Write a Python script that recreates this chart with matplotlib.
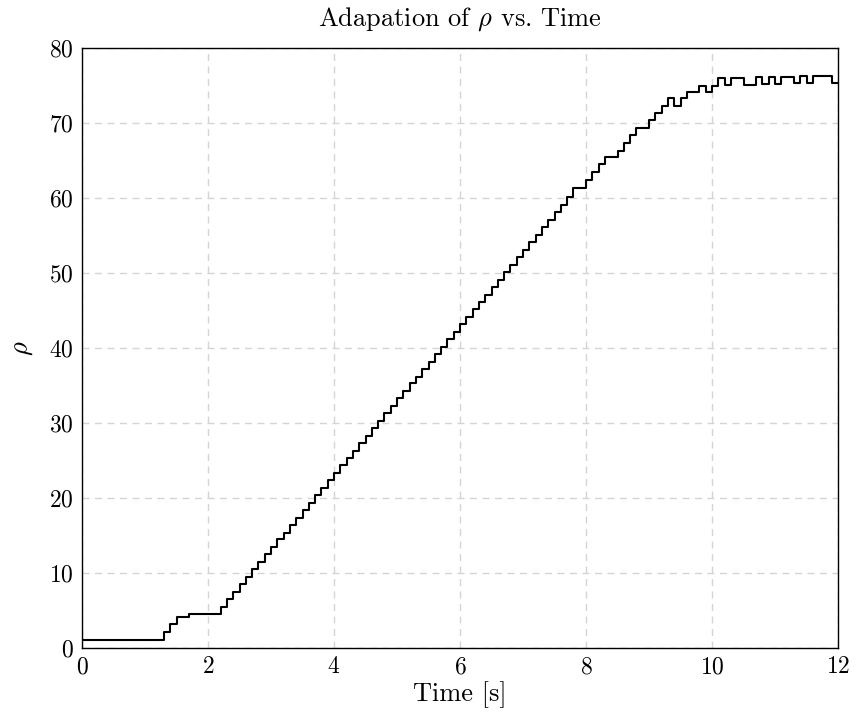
import numpy as np
import matplotlib
matplotlib.use("Agg")
import matplotlib.pyplot as plt

# rho sampled every 0.1 s from t = 0.0 to 12.0 (step signal)
dt = 0.1
rho = [
    1.1, 1.1, 1.1, 1.1, 1.1, 1.1, 1.1, 1.1, 1.1, 1.1, 1.1, 1.1, 1.1,   # 0.0 - 1.2
    2.1, 3.2, 4.2, 4.2, 4.5, 4.5, 4.5, 4.5, 4.5,                        # 1.3 - 2.1
    5.5, 6.5, 7.5, 8.5, 9.5, 10.5, 11.5, 12.5, 13.5, 14.5,              # 2.2 - 3.1
    15.4, 16.4, 17.4, 18.4, 19.4, 20.4, 21.4, 22.4, 23.4, 24.4,         # 3.2 - 4.1
    25.4, 26.3, 27.3, 28.3, 29.3, 30.3, 31.3, 32.3, 33.3, 34.3,         # 4.2 - 5.1
    35.3, 36.2, 37.2, 38.2, 39.2, 40.2, 41.2, 42.2, 43.2, 44.2,         # 5.2 - 6.1
    45.2, 46.1, 47.1, 48.1, 49.1, 50.1, 51.1, 52.1, 53.1, 54.1,         # 6.2 - 7.1
    55.1, 56.1, 57.1, 58.1, 59.1, 60.2, 61.3, 61.3, 62.4, 63.5,         # 7.2 - 8.1
    64.5, 65.4, 65.4, 66.3, 67.3, 68.4, 69.4, 69.4, 70.4, 71.3,         # 8.2 - 9.1
    72.3, 73.3, 72.3, 73.3, 74.2, 74.2, 75.0, 74.2, 75.0, 76.0,         # 9.2 - 10.1
    75.1, 76.0, 76.0, 75.1, 75.1, 76.1, 75.2, 76.1, 75.2, 76.2,         # 10.2 - 11.1
    76.2, 75.3, 76.3, 75.3, 76.3, 76.3, 76.3, 75.4, 75.4,               # 11.2 - 12.0
]
time = np.round(np.arange(len(rho)) * dt, 1)

x_ticks = [0, 2, 4, 6, 8, 10, 12]
y_ticks = [0, 10, 20, 30, 40, 50, 60, 70, 80]

plt.rcParams['font.family'] = 'serif'
plt.rcParams['font.serif'] = ['cmr10']
plt.rcParams['mathtext.fontset'] = 'cm'
plt.rcParams['axes.unicode_minus'] = False
plt.rcParams['axes.formatter.use_mathtext'] = True

fig = plt.figure(figsize=(8.56, 7.15), dpi=100)
ax = fig.add_axes([82/856, 67/715, 756/856, 600/715])

ax.plot(time, rho, drawstyle='steps-post', color='black', lw=1.5)

ax.set_xlim(0, 12)
ax.set_ylim(0, 80)
ax.set_xticks(x_ticks)
ax.set_yticks(y_ticks)
ax.grid(True, color='#d4d4d4', linestyle=(0, (5, 4)), linewidth=1.0)
ax.set_axisbelow(True)
ax.tick_params(length=0, labelsize=17, pad=6)
for s in ax.spines.values():
    s.set_linewidth(1.0)

ax.set_title(r'Adapation of $\rho$ vs. Time', fontsize=19, pad=16)
ax.set_xlabel('Time [s]', fontsize=19, labelpad=2)
ax.set_ylabel(r'$\rho$', fontsize=19, labelpad=10)

fig.savefig('out.png', dpi=100)
